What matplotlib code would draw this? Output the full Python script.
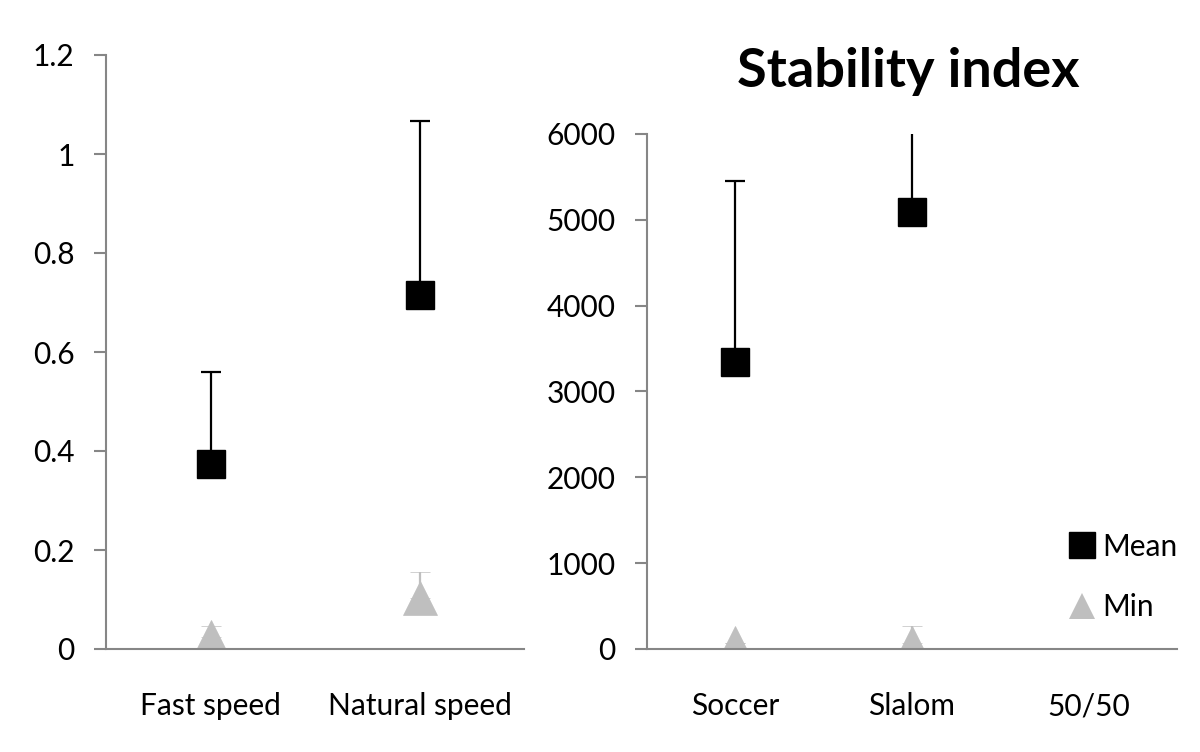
import matplotlib.pyplot as plt
from matplotlib.lines import Line2D

plt.rcParams['font.family'] = ['Lato', 'DejaVu Sans']

# left panel
speed_cats = ['Fast speed', 'Natural speed']
speed_mean = [0.374, 0.716]
speed_mean_err = [0.185, 0.350]
speed_min = [0.024, 0.103]
speed_min_err = [0.022, 0.052]

# right panel
task_cats = ['Soccer', 'Slalom', '50/50']
task_mean = [3340, 5090]
task_mean_err = [2110, 1100]
task_min = [70, 70]
task_min_err = [0, 200]

axis_col = '#868686'
min_col = '#bfbfbf'

fig = plt.figure(figsize=(12, 7.52), dpi=100)
ax1 = fig.add_axes([106/1200, 103/752, 418/1200, 594/752])
ax2 = fig.add_axes([647/1200, 103/752, 530/1200, 515/752])


def style(ax):
    for s in ['top', 'right']:
        ax.spines[s].set_visible(False)
    for s in ['left', 'bottom']:
        ax.spines[s].set_color(axis_col)
        ax.spines[s].set_linewidth(1.5)
    ax.tick_params(axis='y', length=8.6, width=1.5, color=axis_col, labelsize=21.5, pad=14)
    ax.tick_params(axis='x', length=0, labelsize=21.5, pad=31)


def draw(ax, cats, mean, mean_err, mn, mn_err):
    x = list(range(len(cats)))
    n = len(mean)
    ax.errorbar(x[:n], mean, yerr=[[0]*n, mean_err], fmt='s', color='black', ms=20,
                ecolor='black', elinewidth=1.6, capsize=7, capthick=1.6, zorder=3)
    ax.errorbar(x[:n], mn, yerr=[[0]*n, mn_err], fmt='^', color=min_col, ms=25,
                mec=min_col, mew=0.5,
                ecolor=min_col, elinewidth=1.6, capsize=7, capthick=1.6, zorder=2)
    ax.set_xticks(x)
    ax.set_xticklabels(cats)
    ax.set_xlim(-0.5, len(cats) - 0.5)


draw(ax1, speed_cats, speed_mean, speed_mean_err, speed_min, speed_min_err)
ax1.set_ylim(0, 1.2)
ax1.set_yticks([0, 0.2, 0.4, 0.6, 0.8, 1.0, 1.2])
ax1.set_yticklabels(['0', '0.2', '0.4', '0.6', '0.8', '1', '1.2'])
style(ax1)

draw(ax2, task_cats, task_mean, task_mean_err, task_min, task_min_err)
ax2.set_ylim(0, 6000)
ax2.set_yticks(range(0, 6001, 1000))
style(ax2)

fig.text(908/1200, 1 - 72/752, 'Stability index', ha='center', va='center',
         fontsize=39, fontweight='bold')

handles = [Line2D([], [], marker='s', color='black', ls='none', ms=19),
           Line2D([], [], marker='^', color=min_col, ls='none', ms=19, mew=0)]
ax2.legend(handles, ['Mean', 'Min'], loc='center left', frameon=False, fontsize=21.5,
           bbox_to_anchor=(1040/1200, 1 - 577/752), bbox_transform=fig.transFigure,
           handlelength=1.0, handletextpad=0.2, labelspacing=1.1)

fig.savefig('out.png', dpi=100)
